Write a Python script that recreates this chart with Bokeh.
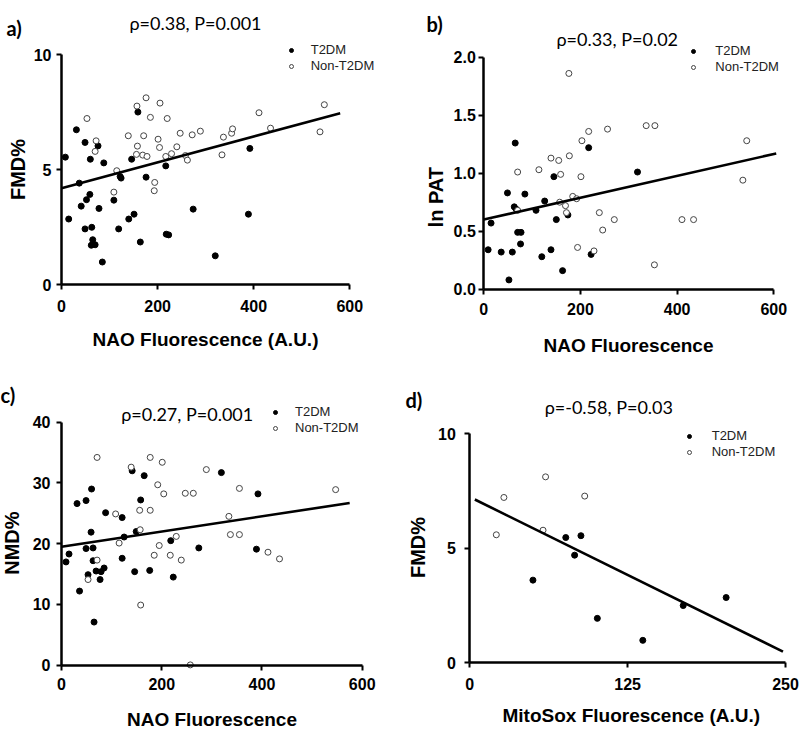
import math
from bokeh.plotting import figure
from bokeh.layouts import column, row
from bokeh.models import Label, Legend, LegendItem, FixedTicker, Range1d, NumeralTickFormatter
from bokeh.embed import file_html
from bokeh.resources import INLINE

# ---------------- data ----------------
# panel a: FMD% vs NAO fluorescence
a_t2dm_x = [8, 15, 31, 37, 41, 49, 49, 52, 59, 60, 63, 65, 62, 70, 76, 78, 85, 88, 109, 119,
            122, 124, 140, 146, 151, 159, 164, 176, 217, 218, 223, 274, 320, 389, 392]
a_t2dm_y = [5.55, 2.86, 6.74, 4.42, 3.42, 6.19, 2.43, 3.70, 3.93, 5.46, 2.50, 1.96, 1.72, 1.74, 6.04, 3.32, 0.99, 5.30, 3.68, 2.43,
            4.71, 4.64, 2.86, 5.46, 3.07, 7.51, 1.86, 4.68, 5.17, 2.20, 2.17, 3.29, 1.26, 3.07, 5.93]
a_non_x = [53, 72, 70, 109, 115, 139, 157, 158, 156, 171, 169, 176, 178, 185, 193, 194, 201, 205, 204, 220,
           217, 229, 240, 247, 258, 262, 272, 289, 334, 337, 354, 356, 411, 435, 538, 547]
a_non_y = [7.23, 6.26, 5.80, 4.03, 4.96, 6.48, 7.77, 6.03, 5.67, 6.48, 5.64, 8.13, 5.58, 7.28, 4.09, 4.45, 6.33, 7.90, 5.97, 7.23,
           5.58, 5.70, 6.00, 6.59, 5.62, 5.42, 6.52, 6.68, 5.65, 6.42, 6.59, 6.78, 7.48, 6.81, 6.65, 7.83]
a_fit_x = [0, 580]
a_fit_y = [4.20, 7.46]

# panel b: ln PAT vs NAO fluorescence
b_t2dm_x = [9, 15, 36, 49, 52, 59, 63, 65, 67, 70, 77, 76, 85, 108, 120, 126, 139, 145, 150, 163, 174, 217, 222, 318]
b_t2dm_y = [0.34, 0.57, 0.32, 0.83, 0.08, 0.32, 0.71, 1.26, 0.69, 0.49, 0.49, 0.39, 0.82, 0.68, 0.28, 0.76, 0.34, 0.97,
            0.60, 0.16, 0.64, 1.22, 0.30, 1.01]
b_non_x = [70, 70, 114, 139, 155, 157, 159, 169, 171, 176, 177, 184, 192, 194, 201, 203, 217, 228, 239, 246, 256, 270,
           336, 354, 353, 410, 434, 536, 544]
b_non_y = [1.01, 0.68, 1.03, 1.13, 1.11, 0.75, 0.99, 0.72, 0.66, 1.86, 1.15, 0.80, 0.78, 0.36, 0.97, 1.28, 1.36, 0.33,
           0.66, 0.51, 1.38, 0.60, 1.41, 1.41, 0.21, 0.60, 0.60, 0.94, 1.28]
b_fit_x = [0, 605]
b_fit_y = [0.60, 1.17]

# panel c: NMD% vs NAO fluorescence
c_t2dm_x = [9, 15, 31, 36, 49, 49, 53, 59, 60, 63, 63, 65, 69, 77, 79, 85, 88, 121, 121, 125, 141, 146, 149, 158, 165,
            176, 218, 223, 274, 319, 392, 389]
c_t2dm_y = [17.0, 18.3, 26.6, 12.2, 27.1, 19.2, 14.9, 21.9, 29.0, 19.3, 17.2, 7.1, 15.5, 14.1, 15.4, 16.0, 25.1, 24.3,
            17.6, 21.1, 32.0, 15.4, 22.0, 27.2, 31.2, 15.6, 20.5, 14.5, 19.3, 31.7, 28.2, 19.1]
c_non_x = [53, 71, 71, 108, 115, 139, 156, 157, 158, 177, 177, 185, 192, 195, 201, 204, 217, 229, 239, 247, 257, 263,
           289, 334, 337, 355, 355, 412, 435, 547]
c_non_y = [14.1, 34.2, 17.3, 24.9, 20.1, 32.6, 25.5, 22.3, 9.9, 34.2, 25.5, 18.1, 29.7, 19.7, 33.4, 28.2, 18.1, 21.2,
           17.3, 28.3, 0.05, 28.3, 32.2, 24.5, 21.5, 29.1, 21.5, 18.6, 17.5, 28.9]
c_fit_x = [0, 575]
c_fit_y = [19.5, 26.7]

# panel d: FMD% vs MitoSox fluorescence
d_t2dm_x = [50, 76, 83, 88, 101, 137, 169, 203]
d_t2dm_y = [3.61, 5.47, 4.70, 5.55, 1.94, 0.98, 2.50, 2.85]
d_non_x = [21, 27, 58, 60, 91]
d_non_y = [5.59, 7.22, 5.79, 8.12, 7.28]
d_fit_x = [4, 248]
d_fit_y = [7.13, 0.49]

stats_text = ["\u03c1=0.38, P=0.001", "\u03c1=0.33, P=0.02", "\u03c1=0.27, P=0.001", "\u03c1=-0.58, P=0.03"]
panel_tags = ["a)", "b)", "c)", "d)"]
legend_labels = ["T2DM", "Non-T2DM"]
x_titles = ["NAO Fluorescence (A.U.)", "NAO Fluorescence", "NAO Fluorescence", "MitoSox Fluorescence (A.U.)"]
y_titles = ["FMD%", "ln PAT", "NMD%", "FMD%"]

AX_FONT = "Liberation Sans"
TXT_FONT = "Lato"


def panel(w, h, box, xdom, ydom, xticks, yticks, xlabel, ylabel,
          tx, ty, nx, ny, fx, fy, stat, stat_pos, tag, tag_pos, xlab_pos, ylab_pos,
          leg_box, leg_standoff, x_std=10, y_std=5, yfmt=None):
    # box: pixel position (left, right, top, bottom) of the axes' data box inside the figure
    L, R, T, B = box
    sx = (R - L) / (xdom[1] - xdom[0])
    sy = (B - T) / (ydom[1] - ydom[0])
    xr = Range1d(xdom[0] - L / sx, xdom[1] + (w - R) / sx)
    yr = Range1d(ydom[0] - (h - B) / sy, ydom[1] + T / sy)
    p = figure(width=w, height=h, output_backend="svg", toolbar_location=None, x_range=xr, y_range=yr)
    p.min_border = 0
    p.min_border_left = 0
    p.min_border_right = 0
    p.min_border_top = 0
    p.min_border_bottom = 0
    p.outline_line_color = None
    p.grid.visible = False
    p.background_fill_color = "white"
    p.border_fill_color = "white"

    for ax in (p.xaxis[0], p.yaxis[0]):
        ax.fixed_location = 0
        ax.axis_line_width = 2.5
        ax.axis_line_color = "black"
        ax.major_tick_line_width = 2
        ax.major_tick_line_color = "black"
        ax.major_tick_out = 5
        ax.major_tick_in = 0
        ax.minor_tick_out = 0
        ax.minor_tick_in = 0
        ax.major_label_text_font = AX_FONT
        ax.major_label_text_font_style = "bold"
        ax.major_label_text_font_size = "16px"
        ax.major_label_text_color = "black"
    p.xaxis[0].bounds = (xdom[0], xdom[1])
    p.yaxis[0].bounds = (ydom[0], ydom[1])
    p.xaxis[0].ticker = FixedTicker(ticks=xticks)
    p.yaxis[0].ticker = FixedTicker(ticks=yticks)
    p.xaxis[0].major_label_standoff = x_std
    p.yaxis[0].major_label_standoff = y_std
    if yfmt:
        p.yaxis[0].formatter = NumeralTickFormatter(format=yfmt)

    r1 = p.scatter(tx, ty, marker="circle", size=6, fill_color="black", line_color="black", line_width=1)
    r2 = p.scatter(nx, ny, marker="circle", size=6, fill_color="white", line_color="#444444", line_width=1)
    p.line(fx, fy, line_color="black", line_width=2.6)

    lx, ltop = leg_box
    leg = Legend(items=[LegendItem(label=legend_labels[0], renderers=[r1]),
                        LegendItem(label=legend_labels[1], renderers=[r2])],
                 location=(lx, h - (ltop + 32)), orientation="vertical",
                 glyph_width=10, glyph_height=16, label_height=16, label_standoff=leg_standoff,
                 spacing=0, padding=0, margin=0,
                 border_line_color=None, background_fill_alpha=0,
                 label_text_font=AX_FONT, label_text_font_size="13px", label_text_color="#222222")
    p.add_layout(leg)

    def lab(text, pos, font, size, style="normal", angle=0.0, align="center"):
        p.add_layout(Label(x=pos[0], y=h - pos[1], x_units="screen", y_units="screen", text=text,
                           angle=angle, text_font=font, text_font_style=style, text_font_size=size,
                           text_color="black", text_align=align, text_baseline="middle"))

    lab(stat, stat_pos, TXT_FONT, "18px")
    lab(tag, tag_pos, TXT_FONT, "20px", style="bold", align="left")
    lab(xlabel, xlab_pos, AX_FONT, "19px", style="bold")
    lab(ylabel, ylab_pos, AX_FONT, "20px", style="bold", angle=math.pi / 2)
    return p


pa = panel(400, 358, (61, 349.3, 54.3, 284.3), (0, 600), (0, 10), [0, 200, 400, 600], [0, 5, 10],
           x_titles[0], y_titles[0],
           a_t2dm_x, a_t2dm_y, a_non_x, a_non_y, a_fit_x, a_fit_y,
           stats_text[0], (195, 22.5), panel_tags[0], (6, 27), (205, 339), (17.5, 169),
           (285.7, 41.5), 15, x_std=10, y_std=5)

pb = panel(400, 358, (83.3, 373.3, 56.7, 288.7), (0, 600), (0, 2), [0, 200, 400, 600], [0, 0.5, 1.0, 1.5, 2.0],
           x_titles[1], y_titles[1],
           b_t2dm_x, b_t2dm_y, b_non_x, b_non_y, b_fit_x, b_fit_y,
           stats_text[1], (216.7, 38.3), panel_tags[1], (26, 23), (228, 345), (35, 196.7),
           (288.3, 42.9), 17, x_std=9, y_std=3, yfmt="0.0")

pc = panel(400, 373, (61, 361.7, 63.7, 306.7), (0, 600), (0, 40), [0, 200, 400, 600], [0, 10, 20, 30, 40],
           x_titles[2], y_titles[2],
           c_t2dm_x, c_t2dm_y, c_non_x, c_non_y, c_fit_x, c_fit_y,
           stats_text[2], (186.7, 55), panel_tags[2], (0, 36), (211.5, 361), (11.7, 184.6),
           (270, 45.5), 15, x_std=8, y_std=6)

pd_ = panel(400, 373, (69.3, 385, 75.3, 304.3), (0, 250), (0, 10), [0, 125, 250], [0, 5, 10],
            x_titles[3], y_titles[3],
            d_t2dm_x, d_t2dm_y, d_non_x, d_non_y, d_fit_x, d_fit_y,
            stats_text[3], (208.3, 48.7), panel_tags[3], (5, 41), (230.8, 357), (17.5, 189),
            (283.7, 69.9), 18, x_std=10, y_std=9)

layout = column(row(pa, pb), row(pc, pd_))
open("out.html", "w").write(file_html(layout, INLINE))
